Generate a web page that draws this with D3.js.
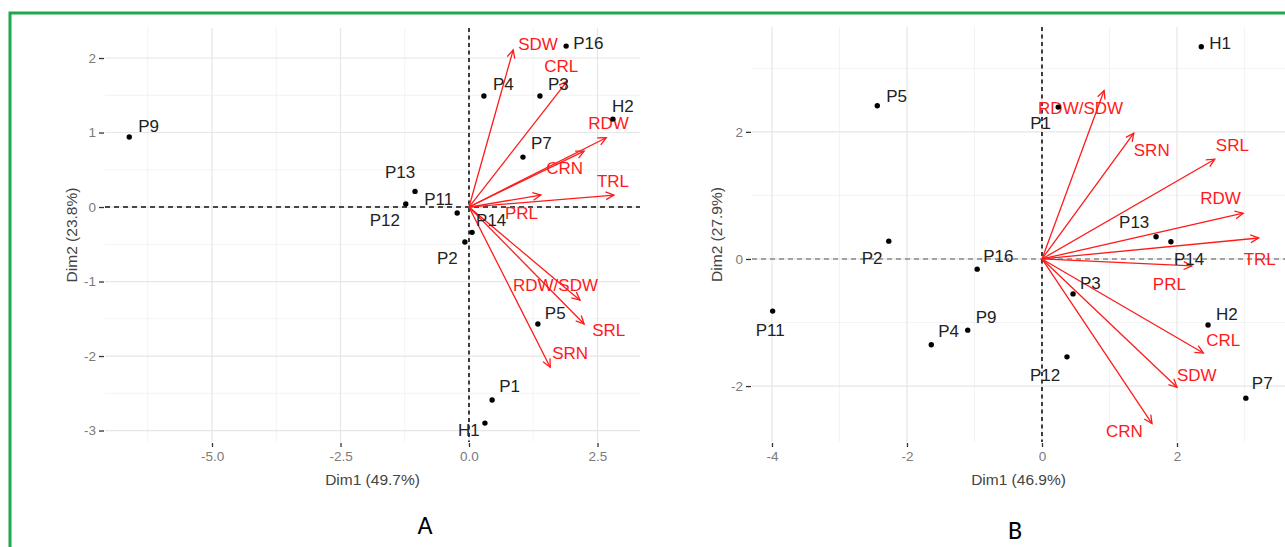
<!DOCTYPE html>
<html>
<head>
<meta charset="utf-8">
<script src="https://cdn.jsdelivr.net/npm/d3@7"></script>
<style>
  body { margin: 0; background: #fff; }
  svg { display: block; font-family: 'Liberation Sans', Arial, sans-serif; }
</style>
</head>
<body>
<svg class="chart"></svg>
<script>
// Panel A: individuals
var indNamesA = ['P9', 'P16', 'P4', 'P3', 'H2', 'P7', 'P13', 'P12', 'P11', 'P14', 'P2', 'P5', 'P1', 'H1'];
var indDim1A = [-6.61, 1.89, 0.29, 1.38, 2.80, 1.05, -1.05, -1.23, -0.23, 0.06, -0.08, 1.34, 0.45, 0.31];
var indDim2A = [0.94, 2.16, 1.49, 1.49, 1.18, 0.67, 0.21, 0.04, -0.08, -0.34, -0.47, -1.57, -2.59, -2.90];
// Panel A: variables
var varNamesA = ['SDW', 'CRL', 'RDW', 'CRN', 'TRL', 'PRL', 'RDW/SDW', 'SRL', 'SRN'];
var varDim1A = [0.86, 1.91, 2.67, 2.24, 2.82, 1.40, 2.16, 2.24, 1.58];
var varDim2A = [2.11, 1.69, 0.93, 0.75, 0.16, 0.16, -1.25, -1.57, -2.15];

// Panel B: individuals
var indNamesB = ['P5', 'P1', 'H1', 'P13', 'P14', 'P16', 'P2', 'P3', 'H2', 'P9', 'P4', 'P11', 'P12', 'P7'];
var indDim1B = [-2.44, 0.24, 2.36, 1.69, 1.91, -0.96, -2.27, 0.46, 2.46, -1.10, -1.64, -3.99, 0.37, 3.02];
var indDim2B = [2.41, 2.39, 3.34, 0.35, 0.27, -0.16, 0.28, -0.55, -1.04, -1.12, -1.35, -0.82, -1.54, -2.19];
// Panel B: variables
var varNamesB = ['RDW/SDW', 'SRN', 'SRL', 'RDW', 'TRL', 'PRL', 'CRL', 'SDW', 'CRN'];
var varDim1B = [0.92, 1.36, 2.56, 2.98, 3.21, 2.22, 2.39, 2.00, 1.63];
var varDim2B = [2.65, 1.98, 1.57, 0.72, 0.33, -0.11, -1.48, -2.02, -2.59];

var xTicksA = [-5.0, -2.5, 0.0, 2.5];
var yTicksA = [-3, -2, -1, 0, 1, 2];
var xTicksB = [-4, -2, 0, 2];
var yTicksB = [-2, 0, 2];

// label offsets in px (dx, dy) from the point / arrow tip, like ggrepel placed them
var nudgeA = {
  P9: [9, -11], P16: [7, -3], P4: [9, -12], P3: [8, -12], H2: [-1, -13], P7: [8, -14],
  P13: [-30, -19], P12: [-36, 16], P11: [-33, -14], P14: [4, -12], P2: [-28, 16],
  P5: [7, -11], P1: [7, -14], H1: [-27, 7],
  SDW: [5, -6], CRL: [-23, -15], RDW: [-18, -15], CRN: [-38, 17], TRL: [-17, -14],
  PRL: [-36, 18], 'RDW/SDW': [-67, -15], SRL: [8, 6], SRN: [2, -14]
};
var nudgeB = {
  P5: [9, -10], P1: [-28, 16], H1: [8, -4], P13: [-37, -15], P14: [3, 17], P16: [6, -13],
  P2: [-27, 17], P3: [7, -11], H2: [8, -11], P9: [8, -13], P4: [7, -14], P11: [-17, 19],
  P12: [-37, 18], P7: [6, -15],
  'RDW/SDW': [-66, 17], SRN: [0, 17], SRL: [1, -14], RDW: [-43, -15], TRL: [-15, 21],
  PRL: [-39, 18], CRL: [3, -13], SDW: [0, -12], CRN: [-46, 7]
};

const W = 1285, H = 547;
const red = '#ff1a1a';
const svg = d3.select('svg.chart').attr('width', W).attr('height', H);
svg.append('rect').attr('width', W).attr('height', H).attr('fill', '#fff');

// green frame (only top and left are inside the picture)
svg.append('path')
  .attr('d', 'M10,' + H + 'V13H' + W)
  .attr('fill', 'none')
  .attr('stroke', '#1ea84b')
  .attr('stroke-width', 3);

// R prints a plain hyphen, not the unicode minus d3 uses
const hyphen = f => d => f(d).replace('\u2212', '-');

function biplot(cfg) {
  const x = d3.scaleLinear().domain(cfg.xDom).range(cfg.xRange);
  const y = d3.scaleLinear().domain(cfg.yDom).range(cfg.yRange);
  const g = svg.append('g');
  const [x0, x1] = cfg.xRange, [y1, y0] = cfg.yRange;

  // grid: minor then major
  g.selectAll('line.vminor').data(cfg.xMinor).enter().append('line')
    .attr('x1', d => x(d)).attr('x2', d => x(d)).attr('y1', y0).attr('y2', y1)
    .attr('stroke', '#f0f0f0').attr('stroke-width', 0.8);
  g.selectAll('line.hminor').data(cfg.yMinor).enter().append('line')
    .attr('y1', d => y(d)).attr('y2', d => y(d)).attr('x1', x0).attr('x2', x1)
    .attr('stroke', '#f0f0f0').attr('stroke-width', 0.8);
  g.selectAll('line.vmajor').data(cfg.xTicks).enter().append('line')
    .attr('x1', d => x(d)).attr('x2', d => x(d)).attr('y1', y0).attr('y2', y1)
    .attr('stroke', '#e6e6e6').attr('stroke-width', 1.2);
  g.selectAll('line.hmajor').data(cfg.yTicks).enter().append('line')
    .attr('y1', d => y(d)).attr('y2', d => y(d)).attr('x1', x0).attr('x2', x1)
    .attr('stroke', '#e6e6e6').attr('stroke-width', 1.2);

  // axes
  const xAxis = g.append('g').attr('transform', 'translate(0,' + (y1 + 1) + ')')
    .call(d3.axisBottom(x).tickValues(cfg.xTicks).tickFormat(hyphen(cfg.xFmt)).tickSize(4).tickPadding(4));
  const yAxis = g.append('g').attr('transform', 'translate(' + (x0 - 1) + ',0)')
    .call(d3.axisLeft(y).tickValues(cfg.yTicks).tickFormat(hyphen(d3.format('d'))).tickSize(5).tickPadding(3));
  [xAxis, yAxis].forEach(a => {
    a.select('.domain').remove();
    a.selectAll('.tick line').attr('stroke', '#333').attr('stroke-width', 1.3);
    a.selectAll('.tick text').attr('fill', '#7a7a7a').style('font-size', '13.5px')
      .style('font-family', "'Liberation Sans', Arial, sans-serif");
  });

  // origin dashed lines
  g.append('line').attr('x1', x0).attr('x2', x1).attr('y1', y(0)).attr('y2', y(0))
    .attr('stroke', cfg.hDashColor).attr('stroke-width', 1.4).attr('stroke-dasharray', '5,4');
  g.append('line').attr('x1', x(0)).attr('x2', x(0)).attr('y1', y0).attr('y2', y1)
    .attr('stroke', '#111').attr('stroke-width', 1.6).attr('stroke-dasharray', '4,3.5');

  // variable arrows
  const vars = cfg.varNames.map((n, i) => ({name: n, x: cfg.varX[i], y: cfg.varY[i]}));
  const arr = g.selectAll('g.var').data(vars).enter().append('g').attr('class', 'var');
  arr.append('line')
    .attr('x1', x(0)).attr('y1', y(0))
    .attr('x2', d => x(d.x)).attr('y2', d => y(d.y))
    .attr('stroke', red).attr('stroke-width', 1.3);
  arr.append('path')
    .attr('d', d => {
      const tx = x(d.x), ty = y(d.y);
      const a = Math.atan2(ty - y(0), tx - x(0));
      const L = 9, s = 0.45;
      const p1 = [tx - L * Math.cos(a - s), ty - L * Math.sin(a - s)];
      const p2 = [tx - L * Math.cos(a + s), ty - L * Math.sin(a + s)];
      return 'M' + p1 + 'L' + tx + ',' + ty + 'L' + p2;
    })
    .attr('fill', 'none').attr('stroke', red).attr('stroke-width', 1.3);

  // individuals
  const inds = cfg.indNames.map((n, i) => ({name: n, x: cfg.indX[i], y: cfg.indY[i]}));
  g.selectAll('circle.ind').data(inds).enter().append('circle')
    .attr('cx', d => x(d.x)).attr('cy', d => y(d.y)).attr('r', 2.7).attr('fill', '#000');

  g.selectAll('text.ind').data(inds).enter().append('text')
    .attr('x', d => x(d.x) + cfg.nudge[d.name][0])
    .attr('y', d => y(d.y) + cfg.nudge[d.name][1])
    .attr('dy', '0.35em')
    .attr('fill', '#222').style('font-size', '17px')
    .text(d => d.name);
  arr.append('text')
    .attr('x', d => x(d.x) + cfg.nudge[d.name][0])
    .attr('y', d => y(d.y) + cfg.nudge[d.name][1])
    .attr('dy', '0.35em')
    .attr('fill', red).style('font-size', '17px')
    .text(d => d.name);

  // titles
  g.append('text').attr('x', (x0 + x1) / 2).attr('y', 480).attr('dy', '0.35em')
    .attr('text-anchor', 'middle').attr('fill', '#444').style('font-size', '15.5px')
    .text(cfg.xTitle);
  g.append('text')
    .attr('transform', 'translate(' + cfg.yTitleX + ',' + (y0 + y1) / 2 + ') rotate(-90)')
    .attr('dy', '0.35em').attr('text-anchor', 'middle').attr('fill', '#444')
    .style('font-size', '15.5px').text(cfg.yTitle);
  g.append('text').attr('x', cfg.tag[0]).attr('y', cfg.tag[1]).attr('dy', '0.35em')
    .attr('text-anchor', 'middle').attr('fill', '#000')
    .style('font-family', "Carlito, 'Liberation Sans', Arial, sans-serif")
    .style('font-size', '26px').text(cfg.tagText);
}

biplot({
  xDom: [-7.082, 3.327], xRange: [105, 640],
  yDom: [-3.154, 2.403], yRange: [442, 28],
  xTicks: xTicksA, yTicks: yTicksA,
  xMinor: [-6.25, -3.75, -1.25, 1.25], yMinor: [-2.5, -1.5, -0.5, 0.5, 1.5],
  xFmt: d3.format('.1f'),
  hDashColor: '#111',
  indNames: indNamesA, indX: indDim1A, indY: indDim2A,
  varNames: varNamesA, varX: varDim1A, varY: varDim2A,
  nudge: nudgeA,
  xTitle: 'Dim1 (49.7%)', yTitle: 'Dim2 (23.8%)', yTitleX: 72,
  tag: [425, 525], tagText: 'A'
});

biplot({
  xDom: [-4.296, 3.6], xRange: [752, 1285],
  yDom: [-2.88, 3.65], yRange: [442, 27],
  xTicks: xTicksB, yTicks: yTicksB,
  xMinor: [-3, -1, 1, 3], yMinor: [-1, 1, 3],
  xFmt: d3.format('d'),
  hDashColor: '#8a8a8a',
  indNames: indNamesB, indX: indDim1B, indY: indDim2B,
  varNames: varNamesB, varX: varDim1B, varY: varDim2B,
  nudge: nudgeB,
  xTitle: 'Dim1 (46.9%)', yTitle: 'Dim2 (27.9%)', yTitleX: 717,
  tag: [1015, 530], tagText: 'B'
});
</script>
</body>
</html>
